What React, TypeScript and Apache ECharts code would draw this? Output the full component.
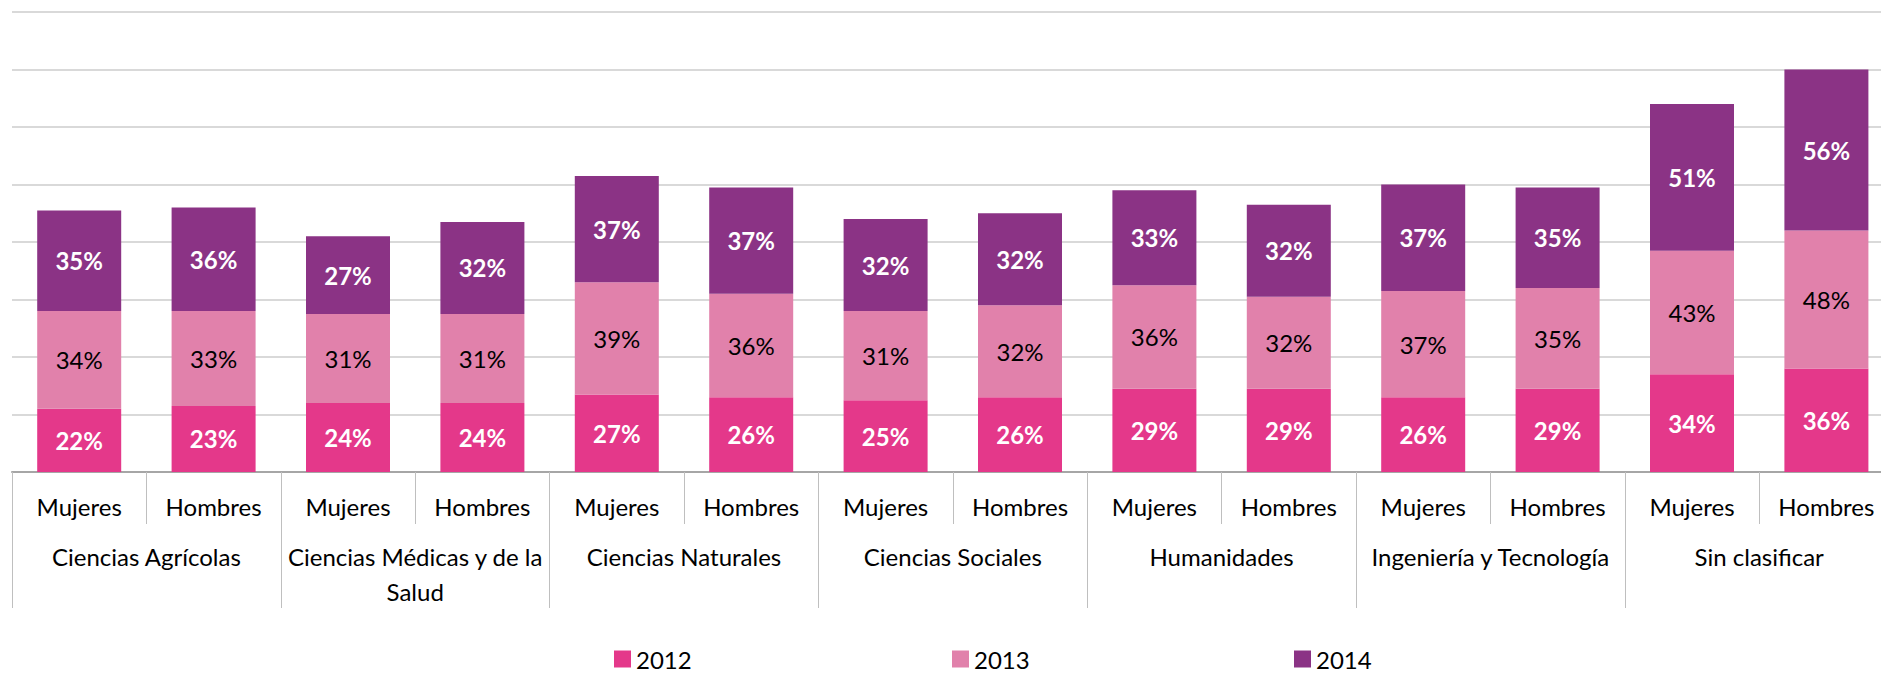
import React, { useEffect, useRef } from "react";
import * as echarts from "echarts";

const groups = [
  "Ciencias Agrícolas",
  "Ciencias Médicas y de la\nSalud",
  "Ciencias Naturales",
  "Ciencias Sociales",
  "Humanidades",
  "Ingeniería y Tecnología",
  "Sin clasificar",
];
const sexes = ["Mujeres", "Hombres"];
const categories: string[] = [];
groups.forEach(() => sexes.forEach((s) => categories.push(s)));

const years = ["2012", "2013", "2014"];
const v2012 = [22, 23, 24, 24, 27, 26, 25, 26, 29, 29, 26, 29, 34, 36];
const v2013 = [34, 33, 31, 31, 39, 36, 31, 32, 36, 32, 37, 35, 43, 48];
const v2014 = [35, 36, 27, 32, 37, 37, 32, 32, 33, 32, 37, 35, 51, 56];
const yTicks = { min: 0, max: 160, interval: 20 };

const colors = ["#E4388A", "#E181AB", "#8B3385"];
const legendLefts = [609, 947, 1289];
const FONT = "Lato, 'Noto Sans', sans-serif";

export default function App() {
  const ref = useRef<HTMLDivElement>(null);
  useEffect(() => {
    document.body.style.margin = "0";
    document.body.style.overflow = "hidden";
    const chart = echarts.init(ref.current!, undefined, { renderer: "svg" });
    const mkSeries = (name: string, data: number[], idx: number) => ({
      name,
      type: "bar",
      stack: "total",
      data,
      barWidth: 84,
      itemStyle: { color: colors[idx] },
      label: {
        show: true,
        position: "inside",
        formatter: (p: any) => `${p.value}%`,
        color: idx === 1 ? "#000000" : "#ffffff",
        fontWeight: idx === 1 ? "normal" : "bold",
        fontSize: 24,
        fontFamily: FONT,
      },
    });
    chart.setOption({
      animation: false,
      textStyle: { fontFamily: FONT },
      grid: { left: 12, top: 12, width: 14 * 134.4, height: 460, containLabel: false },
      legend: years.map((y, i) => ({
        data: [y],
        left: legendLefts[i],
        top: 642,
        itemWidth: 17,
        itemHeight: 17,
        icon: "rect",
        textStyle: { fontSize: 24, color: "#000", fontFamily: FONT },
      })),
      xAxis: [
        {
          type: "category",
          data: categories,
          position: "bottom",
          axisLine: { show: true, lineStyle: { color: "#a6a6a6", width: 2 } },
          axisTick: { show: true, interval: 0, length: 52, lineStyle: { color: "#bfbfbf", width: 1 } },
          axisLabel: { interval: 0, margin: 22, fontSize: 24, color: "#000", fontFamily: FONT },
        },
        {
          type: "category",
          data: groups,
          position: "bottom",
          axisLine: { show: false },
          axisTick: { show: true, interval: 0, length: 136, lineStyle: { color: "#bfbfbf", width: 1 } },
          axisLabel: {
            interval: 0,
            margin: 67,
            fontSize: 24,
            lineHeight: 35,
            color: "#000",
            fontFamily: FONT,
          },
        },
      ],
      yAxis: {
        type: "value",
        min: yTicks.min,
        max: yTicks.max,
        interval: yTicks.interval,
        axisLabel: { show: false },
        axisLine: { show: false },
        axisTick: { show: false },
        splitLine: { lineStyle: { color: "#d9d9d9", width: 2 } },
      },
      series: [mkSeries("2012", v2012, 0), mkSeries("2013", v2013, 1), mkSeries("2014", v2014, 2)],
    });
    return () => chart.dispose();
  }, []);
  return (
    <div style={{ position: "absolute", left: 0, top: 0, width: 1881, height: 674, overflow: "hidden" }}>
      <div ref={ref} style={{ width: 1900, height: 674 }} />
    </div>
  );
}
